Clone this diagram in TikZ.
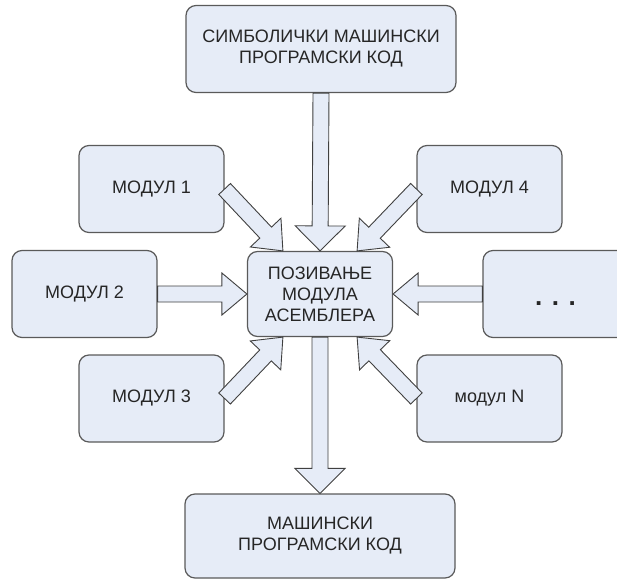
\documentclass[tikz,border=0pt]{standalone}
\usepackage{fontspec}
\setmainfont{Liberation Sans}
\usepackage{tikz}
\usepackage{xcolor}
\usetikzlibrary{calc}

\definecolor{boxfill}{RGB}{230,236,247}
\definecolor{boxline}{RGB}{90,90,90}

% fat arrow from #2 to #3, #1 = half width of the head
\newcommand{\blockarrow}[3][21]{%
	\draw[fat] let \p1=($(#3)-(#2)$), \n1={veclen(\x1,\y1)}, \n2={atan2(\y1,\x1)} in
		($(#2)+(\n2+90:8pt)$) -- ++(\n2:\n1-25pt) -- ++(\n2+90:#1pt-8pt) -- (#3)
		-- ($(#2)+(\n2:\n1-25pt)+(\n2-90:#1pt)$) -- ++(\n2+90:#1pt-8pt)
		-- ($(#2)+(\n2-90:8pt)$) -- cycle;
	}

\begin{document}
\begin{tikzpicture}[x=1pt,y=-1pt,
	box/.style={draw=boxline,fill=boxfill,line width=1.2pt,rounded corners=10pt,
		minimum width=145pt,minimum height=87pt,align=center,
		font=\fontsize{18}{21}\selectfont,text=black!85},
	widebox/.style={box,minimum width=270pt},
	fat/.style={draw=black!75,fill=boxfill,line width=0.9pt,line join=miter}]
\useasboundingbox (0,0) rectangle (617,580);

\node[widebox] (sym) at (321,49) {СИМБОЛИЧКИ МАШИНСКИ\\ПРОГРАМСКИ КОД};
\node[box,minimum height=85pt] (asm) at (320,294) {ПОЗИВАЊЕ\\МОДУЛА\\АСЕМБЛЕРА};
\node[widebox,minimum height=84pt] (mach) at (320,536) {МАШИНСКИ\\ПРОГРАМСКИ КОД};

\node[box] (mod1) at (151.5,189) {МОДУЛ 1};
\node[box] (mod2) at (84.5,294) {МОДУЛ 2};
\node[box] (mod3) at (151.5,398.5) {МОДУЛ 3};
\node[box] (mod4) at (489.5,189) {МОДУЛ 4};
\node[box,text height=22pt,text depth=0pt,font=\fontsize{26}{26}\selectfont\bfseries] (modd) at (555.5,294) {. . .};
\node[box] (modn) at (489.5,398.5) {модул N};

\coordinate (t1) at ($(asm.north west)+(36,0)$);
\coordinate (t4) at ($(asm.north east)+(-36,0)$);
\coordinate (t3) at ($(asm.south west)+(36,0)$);
\coordinate (tn) at ($(asm.south east)+(-36,0)$);

\blockarrow[25]{sym.south}{asm.north}
\blockarrow[25]{asm.south}{mach.north}
\blockarrow{mod2.east}{asm.west}
\blockarrow{modd.west}{asm.east}
\blockarrow{mod1.east}{t1}
\blockarrow{mod4.west}{t4}
\blockarrow{mod3.east}{t3}
\blockarrow{modn.west}{tn}
\end{tikzpicture}
\end{document}
